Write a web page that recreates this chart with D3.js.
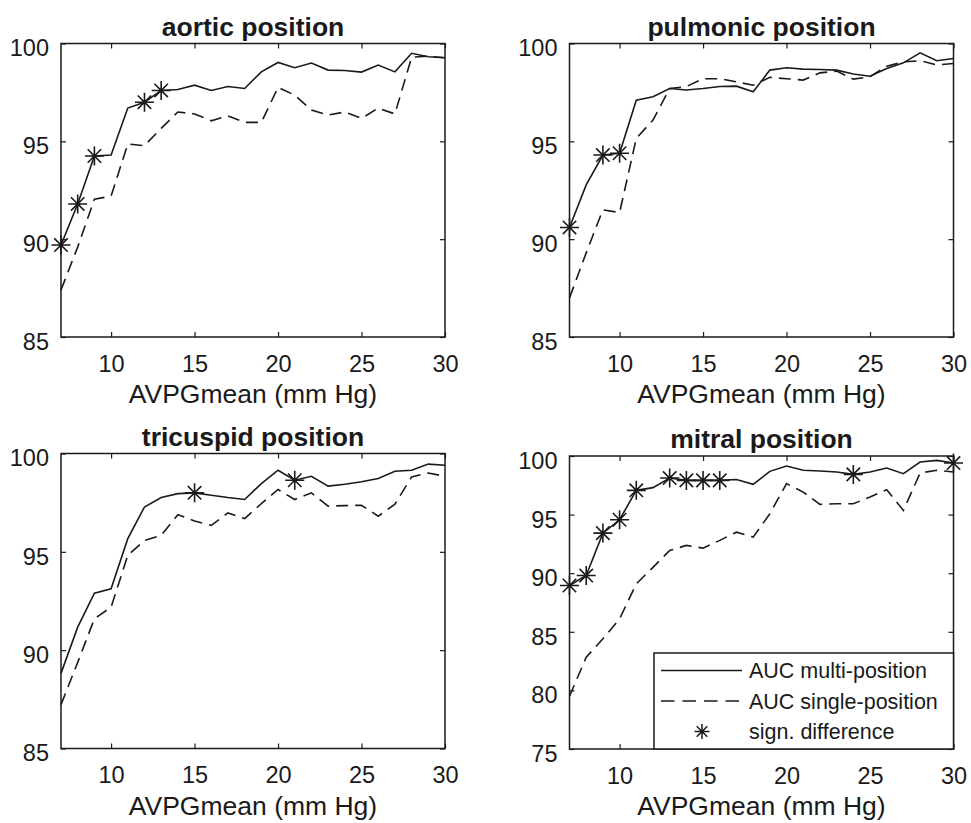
<!DOCTYPE html>
<html>
<head>
<meta charset="utf-8">
<script src="https://cdn.jsdelivr.net/npm/d3@7/dist/d3.min.js"></script>
<style>
  body { margin: 0; background: #ffffff; }
  text { font-family: "Liberation Sans", Arial, Helvetica, sans-serif; fill: #1a1a1a; }
</style>
</head>
<body>
<div id="chart"></div>
<script>
// AVPGmean values (mm Hg) on the x axis
const avpg = [7, 8, 9, 10, 11, 12, 13, 14, 15, 16, 17, 18, 19, 20, 21, 22, 23, 24, 25, 26, 27, 28, 29, 30];
const xTicks = [10, 15, 20, 25, 30];

// aortic position
const aorticMulti  = [89.7, 91.8, 94.25, 94.3, 96.7, 97.0, 97.6, 97.65, 97.87, 97.6, 97.8, 97.7, 98.55, 99.03, 98.76, 99.0, 98.64, 98.62, 98.54, 98.9, 98.55, 99.5, 99.32, 99.27];
const aorticSingle = [87.4, 89.6, 92.04, 92.2, 94.86, 94.78, 95.66, 96.5, 96.4, 96.05, 96.3, 95.97, 95.97, 97.76, 97.36, 96.6, 96.34, 96.5, 96.17, 96.7, 96.4, 99.3, 99.35, 99.27];
const aorticSig    = [7, 8, 9, 12, 13];

// pulmonic position
const pulmonicMulti  = [90.6, 92.77, 94.3, 94.39, 97.1, 97.28, 97.7, 97.62, 97.7, 97.8, 97.82, 97.53, 98.64, 98.76, 98.69, 98.67, 98.64, 98.44, 98.33, 98.72, 99.01, 99.52, 99.12, 99.23];
const pulmonicSingle = [87.0, 89.3, 91.5, 91.36, 95.15, 96.09, 97.7, 97.8, 98.2, 98.2, 98.04, 97.87, 98.27, 98.2, 98.13, 98.5, 98.59, 98.18, 98.3, 98.84, 99.06, 99.12, 98.9, 98.98];
const pulmonicSig    = [7, 9, 10];

// tricuspid position
const tricuspidMulti  = [88.82, 91.17, 92.9, 93.12, 95.67, 97.28, 97.76, 97.96, 98.0, 97.88, 97.76, 97.66, 98.47, 99.15, 98.64, 98.84, 98.34, 98.44, 98.56, 98.73, 99.1, 99.15, 99.46, 99.4];
const tricuspidSingle = [87.23, 89.38, 91.59, 92.19, 94.82, 95.58, 95.84, 96.89, 96.57, 96.35, 96.98, 96.69, 97.45, 98.17, 97.66, 98.0, 97.32, 97.35, 97.37, 96.81, 97.42, 98.81, 99.01, 98.84];
const tricuspidSig    = [15, 21];

// mitral position
const mitralMulti  = [88.95, 89.8, 93.42, 94.56, 97.07, 97.3, 98.12, 97.92, 97.92, 97.92, 98.0, 97.58, 98.69, 99.15, 98.78, 98.72, 98.63, 98.43, 98.63, 98.97, 98.49, 99.49, 99.63, 99.4];
const mitralSingle = [79.5, 82.83, 84.4, 86.1, 89.09, 90.5, 91.94, 92.37, 92.14, 92.8, 93.5, 93.08, 95.07, 97.64, 96.92, 95.87, 95.93, 95.93, 96.5, 97.12, 95.36, 98.55, 98.78, 98.63];
const mitralSig    = [7, 8, 9, 10, 11, 13, 14, 15, 16, 24, 30];

const legendLabels = ["AUC multi-position", "AUC single-position", "sign. difference"];

const drawPanels = () => {

  /*******************************/
  /*    Declare the constants    */
  /*******************************/
  const width = 971;
  const height = 823;
  const ink = "#1a1a1a";
  const dash = "12,7";
  const starSize = 9.5;

  const panels = [
    { title: "aortic position", multi: aorticMulti, single: aorticSingle, sig: aorticSig,
      yDomain: [85, 100], yTicks: [85, 90, 95, 100], left: 61, top: 43.5, w: 384, h: 293.5 },
    { title: "pulmonic position", multi: pulmonicMulti, single: pulmonicSingle, sig: pulmonicSig,
      yDomain: [85, 100], yTicks: [85, 90, 95, 100], left: 569.5, top: 43.5, w: 384, h: 293.5 },
    { title: "tricuspid position", multi: tricuspidMulti, single: tricuspidSingle, sig: tricuspidSig,
      yDomain: [85, 100], yTicks: [85, 90, 95, 100], left: 61, top: 453.5, w: 384, h: 295 },
    { title: "mitral position", multi: mitralMulti, single: mitralSingle, sig: mitralSig,
      yDomain: [75, 100], yTicks: [75, 80, 85, 90, 95, 100], left: 569.5, top: 456, w: 384, h: 293, legend: true }
  ];

  // MATLAB-style asterisk marker
  const starPath = (r) => {
    const d = r * Math.SQRT1_2;
    return `M${-r},0H${r}M0,${-r}V${r}M${-d},${-d}L${d},${d}M${-d},${d}L${d},${-d}`;
  };


  /*******************************/
  /*    Append the containers    */
  /*******************************/
  const svg = d3.select("#chart")
    .append("svg")
      .attr("width", width)
      .attr("height", height)
      .attr("viewBox", `0, 0, ${width}, ${height}`);


  panels.forEach(p => {
    const g = svg
      .append("g")
        .attr("transform", `translate(${p.left}, ${p.top})`);

    /****************************/
    /*    Declare the scales    */
    /****************************/
    const xScale = d3.scaleLinear()
      .domain([avpg[0], avpg[avpg.length - 1]])
      .range([0, p.w]);
    const yScale = d3.scaleLinear()
      .domain(p.yDomain)
      .range([p.h, 0]);


    /**************************/
    /*      Add the axes      */
    /**************************/
    const bottomAxis = d3.axisBottom(xScale)
      .tickValues(xTicks)
      .tickSize(-5)
      .tickSizeOuter(0)
      .tickPadding(18);
    const xAxisG = g.append("g")
        .attr("transform", `translate(0, ${p.h})`)
        .call(bottomAxis);

    const topAxis = d3.axisTop(xScale)
      .tickValues(xTicks)
      .tickSize(-5)
      .tickSizeOuter(0)
      .tickFormat("");
    const topAxisG = g.append("g").call(topAxis);

    const leftAxis = d3.axisLeft(yScale)
      .tickValues(p.yTicks)
      .tickSize(-5)
      .tickSizeOuter(0)
      .tickPadding(12);
    const yAxisG = g.append("g").call(leftAxis);

    const rightAxis = d3.axisRight(yScale)
      .tickValues(p.yTicks)
      .tickSize(-5)
      .tickSizeOuter(0)
      .tickFormat("");
    const rightAxisG = g.append("g")
        .attr("transform", `translate(${p.w}, 0)`)
        .call(rightAxis);

    [xAxisG, topAxisG, yAxisG, rightAxisG].forEach(a => {
      a.select(".domain").remove();
      a.selectAll(".tick line").attr("stroke", ink).attr("stroke-width", 1.2);
      a.selectAll(".tick text")
        .attr("fill", ink)
        .style("font-size", "23.5px");
    });
    yAxisG.selectAll(".tick text").attr("dy", "0.53em");

    // axes box
    g.append("rect")
        .attr("x", 0)
        .attr("y", 0)
        .attr("width", p.w)
        .attr("height", p.h)
        .attr("fill", "none")
        .attr("stroke", ink)
        .attr("stroke-width", 1.5);

    // title and x label
    g.append("text")
        .text(p.title)
        .attr("x", p.w / 2)
        .attr("y", -8)
        .attr("text-anchor", "middle")
        .style("font-size", "26.5px")
        .style("font-weight", "bold");
    g.append("text")
        .text("AVPGmean (mm Hg)")
        .attr("x", p.w / 2)
        .attr("y", p.h + 66)
        .attr("text-anchor", "middle")
        .style("font-size", "26.5px");


    /**************************/
    /*      Add the lines     */
    /**************************/
    const lineGenerator = d3.line()
      .x((d, i) => xScale(avpg[i]))
      .y(d => yScale(d));

    const plot = g.append("g");
    plot.append("path")
        .attr("d", lineGenerator(p.single))
        .attr("fill", "none")
        .attr("stroke", ink)
        .attr("stroke-width", 1.6)
        .attr("stroke-dasharray", dash);
    plot.append("path")
        .attr("d", lineGenerator(p.multi))
        .attr("fill", "none")
        .attr("stroke", ink)
        .attr("stroke-width", 1.6);

    // significance asterisks on the multi-position line
    plot.selectAll(".sig")
      .data(p.sig)
      .join("path")
        .attr("class", "sig")
        .attr("transform", d => `translate(${xScale(d)}, ${yScale(p.multi[avpg.indexOf(d)])})`)
        .attr("d", starPath(starSize))
        .attr("fill", "none")
        .attr("stroke", ink)
        .attr("stroke-width", 1.6);


    /**************************/
    /*      Add the legend    */
    /**************************/
    if (p.legend) {
      const lw = 299.5;
      const lh = 96;
      const legend = g.append("g")
          .attr("transform", `translate(${p.w - lw}, ${p.h - lh})`);
      legend.append("rect")
          .attr("width", lw)
          .attr("height", lh)
          .attr("fill", "#ffffff")
          .attr("stroke", ink)
          .attr("stroke-width", 1.5);

      const rows = legend.selectAll(".legend-row")
        .data(legendLabels)
        .join("g")
          .attr("class", "legend-row")
          .attr("transform", (d, i) => `translate(0, ${17.5 + i * 30.5})`);

      rows.append("text")
          .text(d => d)
          .attr("x", 95)
          .attr("dy", "0.35em")
          .style("font-size", "21.5px");

      rows.filter((d, i) => i < 2)
        .append("line")
          .attr("x1", 7)
          .attr("x2", 88)
          .attr("stroke", ink)
          .attr("stroke-width", 1.5)
          .attr("stroke-dasharray", (d, i) => i === 1 ? "13.5,8" : null);

      rows.filter((d, i) => i === 2)
        .append("path")
          .attr("transform", "translate(48, 0)")
          .attr("d", starPath(7.5))
          .attr("fill", "none")
          .attr("stroke", ink)
          .attr("stroke-width", 1.5);
    }
  });
};

drawPanels();
</script>
</body>
</html>
